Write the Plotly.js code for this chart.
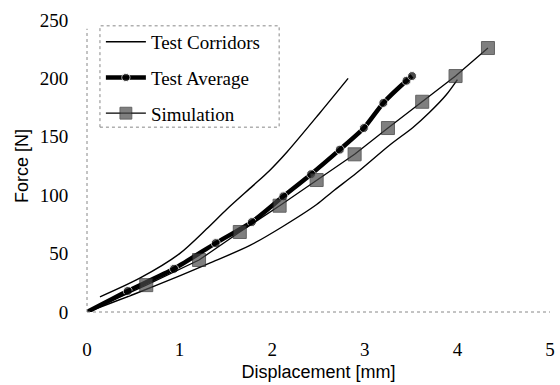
<!DOCTYPE html>
<html><head><meta charset="utf-8">
<script src="https://cdn.plot.ly/plotly-3.0.1.min.js"></script>
<style>body{margin:0;background:#fff}#c{width:560px;height:385px}</style>
</head><body><div id="c"></div>
<script>
// Test corridors (upper and lower bound)
const upperX = [0.14, 0.57, 1.0, 1.29, 1.51, 1.79, 1.97, 2.16, 2.51, 2.82];
const upperY = [13, 29, 50, 71, 88, 108, 121, 137, 170, 200];
const lowerX = [0, 0.5, 1.0, 1.33, 1.76, 2.11, 2.48, 2.65, 2.91, 3.27, 3.52, 3.70, 3.88, 4.0];
const lowerY = [0, 15, 31, 42, 57, 73, 92, 103, 119, 143, 158, 171, 186, 199];
// Test average
const avgX = [0, 0.44, 0.94, 1.39, 1.78, 2.12, 2.42, 2.73, 2.99, 3.20, 3.45, 3.51];
const avgY = [0, 18, 37, 59, 77, 99, 118, 139, 157.5, 179, 198, 202];
// Simulation
const simX = [0, 0.64, 1.21, 1.65, 2.08, 2.48, 2.89, 3.25, 3.62, 3.98, 4.33];
const simY = [0, 23, 44.5, 68.5, 91, 113, 135, 157.5, 180, 202, 226];
// Ticks
const xTicks = [0, 1, 2, 3, 4, 5];
const yTicks = [0, 50, 100, 150, 200, 250];

const serif = 'Liberation Serif, Times New Roman, serif';
const sans = 'Liberation Sans, Arial, sans-serif';

const traces = [
  {x: upperX, y: upperY, mode: 'lines', name: 'Test Corridors', legendgroup: 'a',
   line: {color: '#000', width: 1.4, shape: 'spline', smoothing: 0.8}},
  {x: lowerX, y: lowerY, mode: 'lines', name: 'Test Corridors', legendgroup: 'a', showlegend: false,
   line: {color: '#000', width: 1.4, shape: 'spline', smoothing: 0.8}},
  {x: avgX, y: avgY, mode: 'lines+markers', name: 'Test Average', legendgroup: 'b',
   line: {color: '#000', width: 4.5, shape: 'spline', smoothing: 0.6},
   marker: {symbol: 'circle', color: '#000', size: avgX.map((v, i) => i === 0 ? 0 : 9)}},
  {x: simX, y: simY, mode: 'lines+markers', name: 'Simulation', legendgroup: 'c',
   line: {color: '#000', width: 1.3},
   marker: {symbol: 'square', color: '#4a4a4a', size: simX.map((v, i) => i === 0 ? 0 : 13),
            line: {color: '#222', width: 1}}}
];

const layout = {
  width: 560, height: 385,
  margin: {l: 87, r: 10, t: 20, b: 73},
  paper_bgcolor: '#fff', plot_bgcolor: '#fff',
  showlegend: true,
  legend: {x: 0.03, y: 0.99, xanchor: 'left', yanchor: 'top',
           font: {family: serif, size: 19, color: '#000'},
           bgcolor: 'rgba(255,255,255,0)', borderwidth: 0,
           traceorder: 'grouped', tracegroupgap: 8, itemwidth: 40},
  xaxis: {range: [0, 5], tickvals: xTicks, ticktext: xTicks.map(String),
          showgrid: false, zeroline: false, showline: false,
          ticks: 'outside', ticklen: 20, tickcolor: 'rgba(0,0,0,0)',
          tickfont: {family: serif, size: 19, color: '#000'},
          title: {text: 'Displacement [mm]', font: {family: sans, size: 18, color: '#000'}, standoff: 6}},
  yaxis: {range: [0, 250], tickvals: yTicks, ticktext: yTicks.map(String),
          showgrid: false, zeroline: false, showline: false,
          ticks: 'outside', ticklen: 14, tickcolor: 'rgba(0,0,0,0)',
          tickfont: {family: serif, size: 19, color: '#000'},
          title: {text: 'Force [N]', font: {family: sans, size: 18, color: '#000'}, standoff: 6}},
  shapes: [
    {type: 'line', xref: 'paper', yref: 'paper', x0: 0, x1: 0, y0: 0, y1: 0.97,
     line: {color: '#888', width: 1, dash: 'dot'}},
    {type: 'line', xref: 'paper', yref: 'paper', x0: 0, x1: 1, y0: 0, y1: 0,
     line: {color: '#888', width: 1, dash: 'dot'}},
    {type: 'rect', xref: 'paper', yref: 'paper', x0: 0.028, x1: 0.415, y0: 0.633, y1: 0.98,
     line: {color: '#888', width: 1, dash: 'dot'}}
  ]
};

Plotly.newPlot('c', traces, layout, {displayModeBar: false, staticPlot: true});
</script>
</body></html>
